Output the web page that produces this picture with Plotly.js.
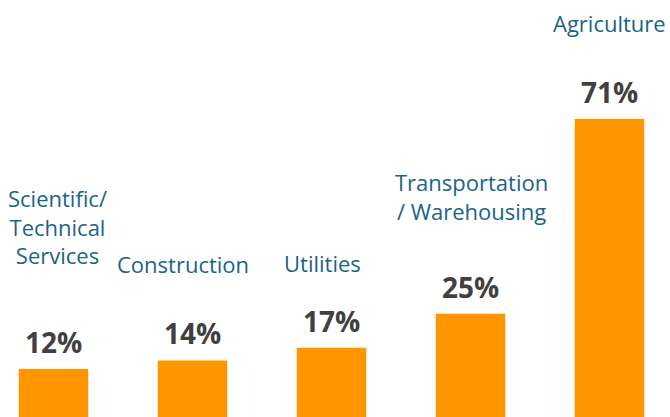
<!DOCTYPE html>
<html>
<head>
<meta charset="utf-8">
<script src="https://cdn.plot.ly/plotly-3.0.1.min.js"></script>
<style>html,body{margin:0;padding:0;background:#fff;}#chart{width:670px;height:417px;}</style>
</head>
<body>
<div id="chart"></div>
<script>
const categories = ["Scientific/<br>Technical<br>Services", "Construction", "Utilities", "Transportation<br>/ Warehousing", "Agriculture"];
const values = [12, 14, 17, 25, 71];
const valueLabels = ["12%", "14%", "17%", "25%", "71%"];

const idx = categories.map((_, i) => i);
const catShift = [142, 96, 85, 117, 96];
const catXShift = [4, -10, -9, 1, 0];

const annotations = [];
idx.forEach(i => {
  annotations.push({
    x: i, y: values[i], xref: 'x', yref: 'y',
    text: valueLabels[i], showarrow: false,
    yanchor: 'middle', yshift: 27,
    font: {family: '"Open Sans", sans-serif', size: 28, color: '#404040', weight: 'bold'}
  });
  annotations.push({
    x: i, y: values[i], xref: 'x', yref: 'y',
    text: categories[i], showarrow: false, align: 'center',
    yanchor: 'middle', yshift: catShift[i], xshift: catXShift[i],
    font: {family: '"Open Sans", sans-serif', size: 22, color: '#1a6485'}
  });
});

Plotly.newPlot('chart', [{
  type: 'bar', x: idx, y: values, width: 0.5,
  marker: {color: '#FF9600', line: {width: 0}},
  hoverinfo: 'none'
}], {
  width: 670, height: 417,
  margin: {l: 0, r: 0, t: 0, b: 0},
  paper_bgcolor: '#ffffff', plot_bgcolor: '#ffffff',
  showlegend: false,
  xaxis: {range: [-0.385, 4.435], visible: false, fixedrange: true},
  yaxis: {range: [0.66, 99.08], visible: false, fixedrange: true},
  annotations: annotations
}, {displayModeBar: false, staticPlot: true});
</script>
</body>
</html>
